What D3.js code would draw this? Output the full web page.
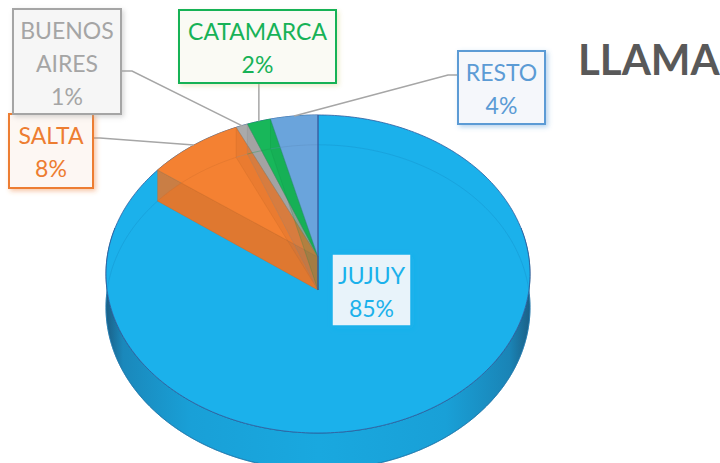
<!DOCTYPE html>
<html>
<head>
<meta charset="utf-8">
<script src="https://cdn.jsdelivr.net/npm/d3@7"></script>
<style>
  html, body { margin: 0; padding: 0; background: #fff; }
  svg { display: block; font-family: Lato, "Open Sans", sans-serif; }
</style>
</head>
<body>
<div id="chart"></div>
<script>
// data
var categories = ["JUJUY", "SALTA", "BUENOS AIRES", "CATAMARCA", "RESTO"];
var values = [85, 8, 1, 2, 4];
var colors = ["#1bb1eb", "#ed7d31", "#a5a5a5", "#17b257", "#679fd6"];
var title = "LLAMA";

// label boxes: x, y, w, h (page layout)
var boxes = [
  {x: 332, y: 254, w: 79, h: 72, lines: ["JUJUY"], bg: "#e8f3fa", border: "#1bb1eb", bw: 1.5},
  {x: 9, y: 114, w: 84, h: 74, lines: ["SALTA"], bg: "#fdf7f3", border: "#ed7d31", bw: 2},
  {x: 13, y: 9, w: 108, h: 105, lines: ["BUENOS", "AIRES"], bg: "#f6f6f6", border: "#a5a5a5", bw: 2},
  {x: 179, y: 10, w: 157, h: 73, lines: ["CATAMARCA"], bg: "#fafaf4", border: "#17b257", bw: 2},
  {x: 458, y: 51, w: 87, h: 73, lines: ["RESTO"], bg: "#f5f7fb", border: "#5b9bd5", bw: 2}
];

var width = 720, height = 463;

var svg = d3.select("#chart").append("svg")
  .attr("width", width)
  .attr("height", height);

var defs = svg.append("defs");

// perspective for the pie disc
var cx = 318, cyTop = 257, A = 210.8, B = 157.2, k = 0.1068, depth = 33;

function proj(a, r, level) {
  var u = r * Math.sin(a), v = -r * Math.cos(a);
  var w = 1 - k * v;
  return [cx + A * u / w, cyTop + B * v / w + level * depth / w];
}

function arcPts(a0, a1, level) {
  var n = Math.max(2, Math.ceil(Math.abs(a1 - a0) / (Math.PI / 180)));
  var pts = [];
  for (var i = 0; i <= n; i++) {
    pts.push(proj(a0 + (a1 - a0) * i / n, 1, level));
  }
  return pts;
}

var line = d3.line();
function shape(pts) { return line(pts) + "Z"; }

var pie = d3.pie().sort(null).value(function(d) { return d; });
var slices = pie(values);
var small = slices.slice(1).map(function(s, j) { s.color = d3.color(colors[j + 1]); return s; });
var smallRev = small.slice().reverse();
var total = d3.sum(values);
var fmt = d3.format(".0%");
var top0 = proj(0, 0, 0), bot0 = proj(0, 0, 1);

function wall(a) { return shape([top0, proj(a, 1, 0), proj(a, 1, 1), bot0]); }

// side gradient
var grad = defs.append("linearGradient")
  .attr("id", "side")
  .attr("gradientUnits", "userSpaceOnUse")
  .attr("x1", 106).attr("x2", 531).attr("y1", 0).attr("y2", 0);
[[0, "#1b5f86"], [0.04, "#1a88bb"], [0.2, "#19a0d7"], [0.5, "#19a8df"],
 [0.8, "#19a0d7"], [0.95, "#1a84b6"], [1, "#1b5e84"]].forEach(function(s) {
  grad.append("stop").attr("offset", s[0]).attr("stop-color", s[1]);
});

// shadows for the label boxes
boxes.forEach(function(b, i) {
  var f = defs.append("filter").attr("id", "sh" + i)
    .attr("x", "-20%").attr("y", "-20%").attr("width", "150%").attr("height", "150%");
  f.append("feDropShadow").attr("dx", 2).attr("dy", 2).attr("stdDeviation", 2.5)
    .attr("flood-color", i === 3 ? "#d8d28a" : b.border).attr("flood-opacity", 0.45);
});

var g = svg.append("g");

// outer wall (front)
var a0 = Math.PI * 0.44, a1 = Math.PI * 1.56;
g.append("path")
  .attr("d", shape(arcPts(a0, a1, 0).concat(arcPts(a1, a0, 1))))
  .attr("fill", "url(#side)")
  .attr("stroke", "#245a8a")
  .attr("stroke-width", 0.8);

// top face (whole disc in JUJUY colour)
g.append("path")
  .attr("d", shape(arcPts(0, 2 * Math.PI, 0)))
  .attr("fill", colors[0])
  .attr("stroke", "#2e5c9e")
  .attr("stroke-width", 0.8);

// bottom rim seen through
g.append("path")
  .attr("d", shape(arcPts(0, 2 * Math.PI, 1)))
  .attr("fill", "none")
  .attr("stroke", "#1696d0")
  .attr("stroke-opacity", 0.5)
  .attr("stroke-width", 1);

// small slices: bottoms, then walls, then tops
smallRev.forEach(function(s) {
  g.append("path")
    .attr("d", shape([bot0].concat(arcPts(s.startAngle, s.endAngle, 1))))
    .attr("fill", s.color.darker(0.1)).attr("fill-opacity", 0.88);
});
smallRev.forEach(function(s) {
  g.append("path")
    .attr("d", wall(s.startAngle))
    .attr("fill", s.color.darker(0.15)).attr("fill-opacity", 0.88)
    .attr("stroke", s.color.darker(0.6)).attr("stroke-width", 0.6).attr("stroke-opacity", 0.5);
});
small.forEach(function(s) {
  g.append("path")
    .attr("d", shape([top0].concat(arcPts(s.startAngle, s.endAngle, 0))))
    .attr("fill", s.color.brighter(0.08))
    .attr("stroke", s.color.darker(0.4)).attr("stroke-width", 0.6).attr("stroke-opacity", 0.6);
});
// far walls and bottom rim showing faintly through the tops
small.forEach(function(s) {
  g.append("path")
    .attr("d", wall(s.endAngle))
    .attr("fill", s.color.darker(0.6)).attr("fill-opacity", 0.18)
    .attr("stroke", s.color.darker(0.6)).attr("stroke-width", 0.6).attr("stroke-opacity", 0.4);
  g.append("path")
    .attr("d", line(arcPts(s.startAngle, s.endAngle, 1)))
    .attr("fill", "none").attr("stroke", s.color.darker(0.4)).attr("stroke-opacity", 0.35);
});

// edge between JUJUY and RESTO
g.append("path")
  .attr("d", line([proj(0, 1, 0), proj(0, 0, 0), proj(0, 0, 1)]))
  .attr("fill", "none").attr("stroke", "#2f4f9a").attr("stroke-width", 1);

// leader lines
var leaders = svg.append("g")
  .attr("fill", "none").attr("stroke", "#a6a6a6").attr("stroke-width", 1.5);

slices.forEach(function(s, i) {
  if (i === 0) return;
  var b = boxes[i];
  var mid = proj((s.startAngle + s.endAngle) / 2, 1, 0);
  var pts;
  if (mid[0] > b.x + b.w) {
    var ly = i === 1 ? b.y + 24 : b.y + 62;
    pts = [[b.x + b.w, ly], [b.x + b.w + (i === 1 ? 7 : 11), ly], mid];
  } else if (mid[0] < b.x) {
    pts = [[b.x, b.y + 24], [b.x - 10, b.y + 24], mid];
  } else {
    pts = [[mid[0], b.y + b.h], mid];
  }
  leaders.append("path").attr("d", line(pts));
});

// label boxes
var labels = svg.append("g");
slices.forEach(function(s, i) {
  var b = boxes[i];
  var lg = labels.append("g");
  lg.append("rect")
    .attr("x", b.x).attr("y", b.y).attr("width", b.w).attr("height", b.h)
    .attr("fill", b.bg)
    .attr("stroke", b.border).attr("stroke-width", b.bw)
    .attr("filter", "url(#sh" + i + ")");
  var txt = b.lines.concat([fmt(values[i] / total)]);
  lg.selectAll("text").data(txt).enter().append("text")
    .attr("x", b.x + b.w / 2)
    .attr("y", function(d, n) { return b.y + 30 + n * 33; })
    .attr("text-anchor", "middle")
    .attr("font-size", 23)
    .attr("fill", i === 4 ? "#5b9bd5" : colors[i])
    .text(function(d) { return d; });
});

// title
svg.append("text")
  .attr("x", 578).attr("y", 75)
  .attr("font-size", 42)
  .attr("font-weight", "bold")
  .attr("fill", "#595959")
  .text(title);
</script>
</body>
</html>
